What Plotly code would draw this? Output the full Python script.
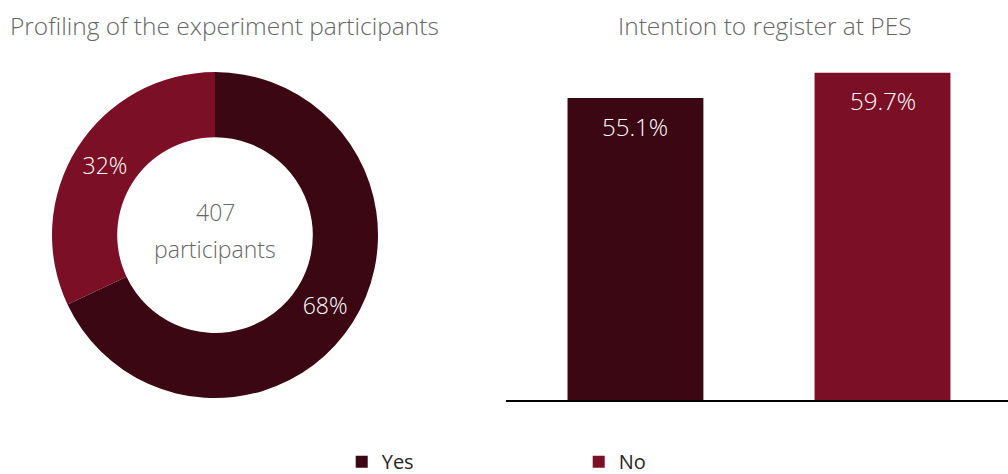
import plotly.graph_objects as go

pie_labels = ["Yes", "No"]
pie_values = [68, 32]
center_lines = ["407", "participants"]

bar_categories = ["Yes", "No"]
bar_values = [55.1, 59.7]
bar_text = ["55.1%", "59.7%"]

titles = ["Profiling of the experiment participants", "Intention to register at PES"]

colors = ["#3A0712", "#7A0F26"]
FONT = "Open Sans"
GRAY = "#666666"

fig = go.Figure()

fig.add_trace(go.Pie(
    labels=pie_labels, values=pie_values, hole=0.6, sort=False,
    direction="clockwise", rotation=0,
    marker=dict(colors=colors, line=dict(width=0)),
    texttemplate="%{percent:.0%}", textposition="inside",
    insidetextorientation="horizontal",
    textfont=dict(color="white", size=23, family=FONT, weight=300),
    domain=dict(x=[0.0516, 0.375], y=[0.160, 0.848]),
    hoverinfo="skip", showlegend=True,
))

fig.add_trace(go.Bar(
    x=bar_categories, y=bar_values, marker=dict(color=colors, line=dict(width=0)),
    showlegend=False, xaxis="x", yaxis="y", hoverinfo="skip",
))

annotations = [
    dict(text=center_lines[0], x=0.2133, y=0.504, xref="paper", yref="paper",
         xanchor="center", yanchor="middle", yshift=23,
         showarrow=False, font=dict(size=23, color=GRAY, family=FONT, weight=300)),
    dict(text=center_lines[1], x=0.2133, y=0.504, xref="paper", yref="paper",
         xanchor="center", yanchor="middle", yshift=-14,
         showarrow=False, font=dict(size=23, color=GRAY, family=FONT, weight=300)),
    dict(text=titles[0], x=0.223, y=0.947, xref="paper", yref="paper",
         xanchor="center", yanchor="middle",
         showarrow=False, font=dict(size=24.5, color=GRAY, family=FONT, weight=300)),
    dict(text=titles[1], x=0.759, y=0.947, xref="paper", yref="paper",
         xanchor="center", yanchor="middle",
         showarrow=False, font=dict(size=24.5, color=GRAY, family=FONT, weight=300)),
]
for c, v, t in zip(bar_categories, bar_values, bar_text):
    annotations.append(dict(text=t, x=c, y=v, xref="x", yref="y", yshift=-28,
                            xanchor="center", yanchor="middle",
                            showarrow=False,
                            font=dict(size=24, color="white", family=FONT, weight=300)))

fig.update_layout(
    width=1008, height=474,
    margin=dict(l=0, r=0, t=0, b=0, autoexpand=False),
    paper_bgcolor="white", plot_bgcolor="white",
    font=dict(family=FONT, color=GRAY),
    bargap=0.45,
    xaxis=dict(domain=[0.502, 1.0], range=[-0.524, 1.508], showticklabels=False,
               showgrid=False, zeroline=False, showline=True, linecolor="black",
               linewidth=2, ticks=""),
    yaxis=dict(domain=[0.156, 0.8498], range=[0, 60], visible=False),
    legend=dict(orientation="h", x=0.339, xanchor="left", y=0.026, yanchor="middle",
                entrywidth=192, entrywidthmode="pixels",
                font=dict(size=20, color="#262626", family=FONT)),
    annotations=annotations,
)

fig.write_html("out.html", config={"displayModeBar": False},
               post_script="document.body.style.margin='0';")
